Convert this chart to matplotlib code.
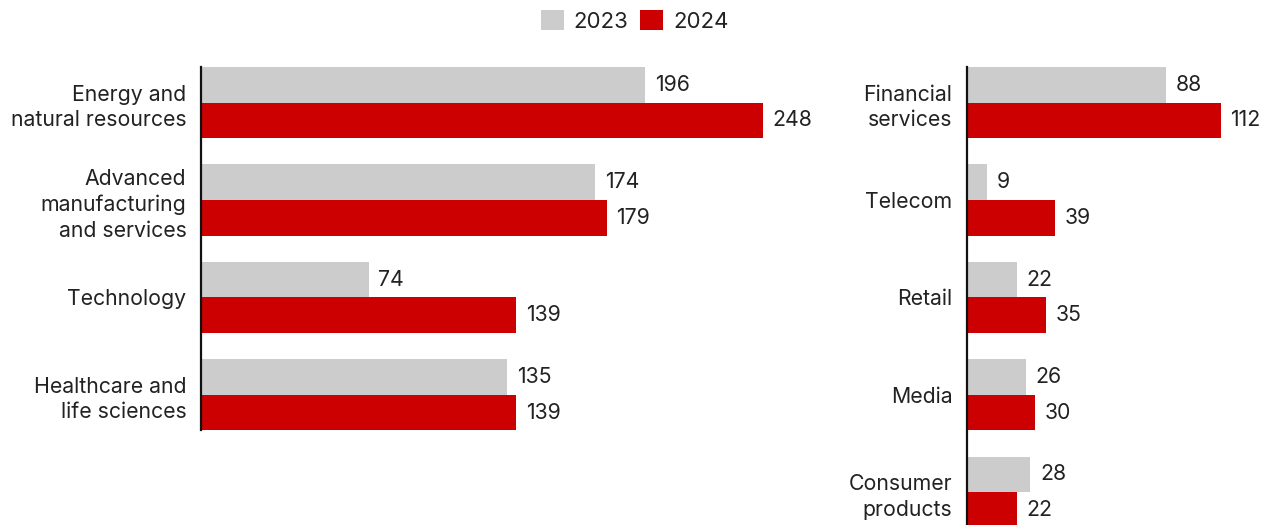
import numpy as np
import matplotlib.pyplot as plt
from matplotlib.patches import Patch

plt.rcParams['font.family'] = ['Inter', 'DejaVu Sans']

left_cats = ['Energy and\nnatural resources', 'Advanced\nmanufacturing\nand services',
             'Technology', 'Healthcare and\nlife sciences']
left_2023 = [196, 174, 74, 135]
left_2024 = [248, 179, 139, 139]

right_cats = ['Financial\nservices', 'Telecom', 'Retail', 'Media', 'Consumer\nproducts']
right_2023 = [88, 9, 22, 26, 28]
right_2024 = [112, 39, 35, 30, 22]

years = ['2023', '2024']
GRAY = '#cccccc'
RED = '#cc0000'
TXT = '#222222'
FS = 15.3

W, H = 1267, 525
fig = plt.figure(figsize=(W / 100, H / 100), dpi=100)

px_unit = 2.266   # pixels per value unit
pitch = 97.4      # pixels per category
bh = 0.365        # bar height in category units


def panel(x0, xmax, cats, v23, v24):
    n = len(cats)
    top = 67
    ylo, yhi = -bh, n - 1 + bh
    hpx = (yhi - ylo) * pitch
    ax = fig.add_axes([x0 / W, (H - top - hpx) / H, xmax * px_unit / W, hpx / H])
    y = np.arange(n)
    b1 = ax.barh(y - bh / 2, v23, height=bh, color=GRAY)
    b2 = ax.barh(y + bh / 2, v24, height=bh, color=RED)
    ax.set_ylim(yhi, ylo)
    ax.set_xlim(0, xmax)
    for b in (b1, b2):
        ax.bar_label(b, padding=7, fontsize=FS, color=TXT)
    ax.set_yticks(y)
    ax.set_yticklabels(cats, fontsize=FS, color=TXT, linespacing=1.35)
    ax.tick_params(axis='y', length=0, pad=10.5)
    ax.set_xticks([])
    for s in ('top', 'right', 'bottom'):
        ax.spines[s].set_visible(False)
    ax.spines['left'].set_linewidth(1.6)
    ax.spines['left'].set_color('#111111')
    ax.patch.set_visible(False)
    return ax


panel(201, 250, left_cats, left_2023, left_2024)
panel(967, 130, right_cats, right_2023, right_2024)

handles = [Patch(facecolor=GRAY), Patch(facecolor=RED)]
leg = fig.legend(handles, years, loc='upper center', bbox_to_anchor=(0.5008, 1.0), ncol=2,
                 frameon=False, fontsize=16, handlelength=1.04, handleheight=1.04,
                 handletextpad=0.45, columnspacing=0.5, borderaxespad=0.05)
for t in leg.get_texts():
    t.set_color(TXT)

fig.savefig('out.png', dpi=100)
